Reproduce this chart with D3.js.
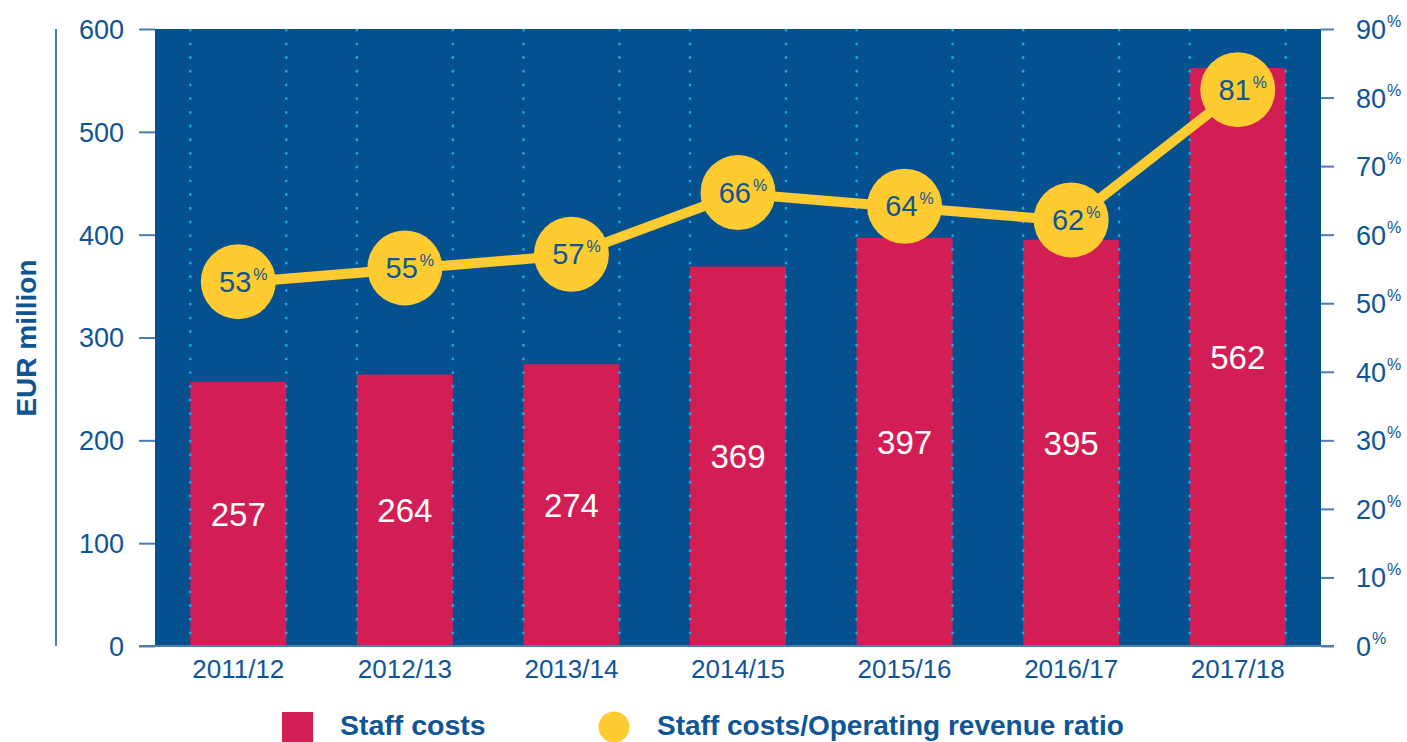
<!DOCTYPE html>
<html>
<head>
<meta charset="utf-8">
<script src="https://cdn.jsdelivr.net/npm/d3@7"></script>
<style>
  html, body { margin: 0; padding: 0; background: #fff; overflow: hidden; }
  svg { display: block; font-family: "Liberation Sans", Arial, sans-serif; }
</style>
</head>
<body>
<svg id="chart" width="1407" height="742"></svg>
<script>
const categories = ["2011/12", "2012/13", "2013/14", "2014/15", "2015/16", "2016/17", "2017/18"];
const staffCosts = [257, 264, 274, 369, 397, 395, 562];
const ratio = [53, 55, 57, 66, 64, 62, 81];
const leftTicks = [0, 100, 200, 300, 400, 500, 600];
const rightTicks = [0, 10, 20, 30, 40, 50, 60, 70, 80, 90];
const legendLabels = ["Staff costs", "Staff costs/Operating revenue ratio"];

const C = { bg: "#05508f", bar: "#d31e55", yellow: "#fecb30", text: "#0f5596", dots: "#1fa8e2", axis: "#4a7db3" };

const svg = d3.select("#chart");
const L = 155, R = 1321, T = 29, B = 646;

const x = d3.scaleBand().domain(categories).range([L, R]).paddingInner(0.424).paddingOuter(0.212);
const yL = d3.scaleLinear().domain([0, 600]).range([B, T]);
const yR = d3.scaleLinear().domain([0, 90]).range([B, T]);

// background
svg.append("rect").attr("x", L).attr("y", T).attr("width", R - L).attr("height", B - T).attr("fill", C.bg);

// bars
svg.selectAll("rect.bar").data(staffCosts).enter().append("rect")
  .attr("class", "bar")
  .attr("x", (d, i) => x(categories[i]))
  .attr("y", d => yL(d))
  .attr("width", x.bandwidth())
  .attr("height", d => B - yL(d))
  .attr("fill", C.bar);

// dotted lines at bar edges
const edges = [];
categories.forEach(c => { edges.push(x(c)); edges.push(x(c) + x.bandwidth()); });
svg.selectAll("line.dot").data(edges).enter().append("line")
  .attr("x1", d => d).attr("x2", d => d)
  .attr("y1", T + 1).attr("y2", B)
  .attr("stroke", C.dots).attr("stroke-width", 2.6)
  .attr("stroke-linecap", "round")
  .attr("stroke-dasharray", "0.3,13.4");

// bar labels
svg.selectAll("text.barlab").data(staffCosts).enter().append("text")
  .attr("x", (d, i) => x(categories[i]) + x.bandwidth() / 2)
  .attr("y", d => (yL(d) + B) / 2 + 12)
  .attr("text-anchor", "middle")
  .attr("fill", "#fff")
  .attr("font-size", 33)
  .text(d => d);

// left axis
const leftAxis = d3.axisLeft(yL).tickValues(leftTicks).tickSize(16).tickPadding(15);
const gL = svg.append("g").attr("transform", `translate(${L},0)`).call(leftAxis);
gL.select(".domain").remove();
gL.selectAll(".tick line").attr("stroke", C.axis).attr("stroke-width", 2);
gL.selectAll(".tick text").attr("fill", C.text).attr("font-size", 27).attr("dy", "0.35em").attr("font-family", "Liberation Sans, Arial, sans-serif");

// right axis
const rightAxis = d3.axisRight(yR).tickValues(rightTicks).tickSize(13).tickPadding(22).tickFormat(d => d);
const gR = svg.append("g").attr("transform", `translate(${R},0)`).call(rightAxis);
gR.select(".domain").remove();
gR.selectAll(".tick line").attr("stroke", C.axis).attr("stroke-width", 2);
gR.selectAll(".tick text").attr("fill", C.text).attr("font-size", 27).attr("dy", "0.35em").attr("font-family", "Liberation Sans, Arial, sans-serif")
  .each(function () {
    const t = d3.select(this);
    const v = t.text();
    t.text(null);
    t.append("tspan").text(v);
    t.append("tspan").attr("font-size", 16).attr("dy", "-0.75em").attr("dx", "1").text("%");
  });

// bottom axis line
svg.append("line").attr("x1", 139).attr("x2", 1334).attr("y1", B).attr("y2", B).attr("stroke", C.axis).attr("stroke-width", 2);

// x labels
const bottomAxis = d3.axisBottom(x).tickSize(0).tickPadding(14);
const gB = svg.append("g").attr("transform", `translate(0,${B})`).call(bottomAxis);
gB.select(".domain").remove();
gB.selectAll(".tick text").attr("fill", C.text).attr("font-size", 26).attr("dy", "0.71em").attr("font-family", "Liberation Sans, Arial, sans-serif");

// left vertical line
svg.append("line").attr("x1", 56).attr("x2", 56).attr("y1", T).attr("y2", B).attr("stroke", C.axis).attr("stroke-width", 2);

// y title
svg.append("text")
  .attr("transform", `translate(36,${(258 + 418) / 2}) rotate(-90)`)
  .attr("text-anchor", "middle")
  .attr("fill", C.text).attr("font-weight", "bold").attr("font-size", 28)
  .text("EUR million");

// ratio line
const cx = (d, i) => x(categories[i]) + x.bandwidth() / 2;
const line = d3.line().x((d, i) => cx(d, i)).y(d => yR(d));
svg.append("path").datum(ratio).attr("d", line)
  .attr("fill", "none").attr("stroke", C.yellow).attr("stroke-width", 10);

svg.selectAll("circle.pt").data(ratio).enter().append("circle")
  .attr("cx", cx).attr("cy", d => yR(d) - 1).attr("r", 37.5).attr("fill", C.yellow);

const lab = svg.selectAll("g.plab").data(ratio).enter().append("g")
  .attr("transform", (d, i) => `translate(${cx(d, i)},${yR(d) - 1})`);
lab.append("text").attr("x", 13).attr("y", 10).attr("text-anchor", "end")
  .attr("fill", C.text).attr("font-size", 29).text(d => d);
lab.append("text").attr("x", 15).attr("y", -2).attr("text-anchor", "start")
  .attr("fill", C.text).attr("font-size", 16).text("%");

// legend
svg.append("rect").attr("x", 282).attr("y", 712).attr("width", 31).attr("height", 30).attr("fill", C.bar);
svg.append("text").attr("x", 340).attr("y", 735).attr("fill", C.text).attr("font-weight", "bold").attr("font-size", 28.5).text(legendLabels[0]);
svg.append("circle").attr("cx", 614).attr("cy", 727).attr("r", 15.5).attr("fill", C.yellow);
svg.append("text").attr("x", 657).attr("y", 735).attr("fill", C.text).attr("font-weight", "bold").attr("font-size", 28).text(legendLabels[1]);
</script>
</body>
</html>
